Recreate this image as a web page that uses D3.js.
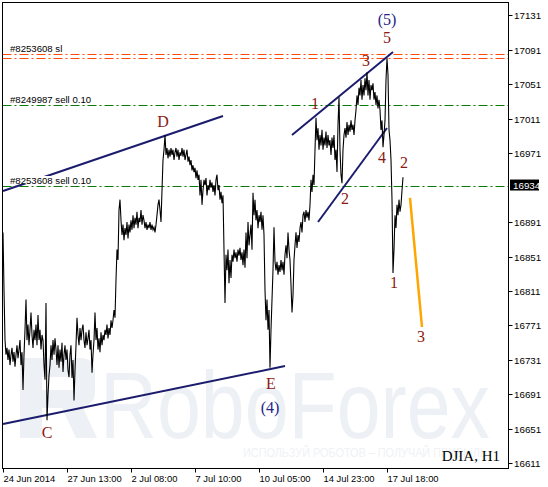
<!DOCTYPE html>
<html><head><meta charset="utf-8">
<script src="https://cdn.jsdelivr.net/npm/d3@7/dist/d3.min.js"></script>
<style>body{margin:0;background:#fff}svg{display:block}</style>
</head><body><svg id="c" width="548" height="487"></svg>
<script>
// ---- data ----
const priceValues = [
16879,16812,16754,16737,16745,16731,16743,16725,16737,16745,
16729,16740,16723,16737,16748,16733,16743,16754,16725,16740,
16696,16737,16766,16801,16754,16772,16748,16766,16786,16760,
16745,16766,16754,16772,16748,16783,16754,16766,16743,16760,
16754,16725,16708,16797,16661,16690,16713,
16725,16748,16731,16754,16737,16756,16743,16725,16748,16722,
16743,16729,16751,16717,16737,16748,16731,16743,16719,16711,
16737,16748,16710,16731,16684,16719,16748,16780,16760,16748,
16768,16754,16766,16772,16754,16745,16763,16748,16756,16766,
16743,16754,16716,16737,16754,16786,16754,16768,16743,16756,
16740,16763,16748,16760,16754,16766,16760,16772,16756,16768,
16760,16777,16768,16777,16789,16780,16824,16859,16847,16905,
16917,16893,16876,16888,16870,16884,16876,16891,16872,16888,
16879,16893,16882,16899,16884,16896,16888,16903,16884,16896,
16891,16905,16888,16899,16893,16884,16891,16882,16888,16884,
16891,16882,16888,16882,16885,16879,16888,16899,16911,16917,
16905,16891,16928,16963,16975,16992,16969,16977,16965,16975,
16967,16977,16969,16975,16963,16972,16977,16967,16975,16963,
16972,16968,16977,16967,16975,16963,16969,16975,16961,16967,
16957,16963,16951,16957,16949,16954,16942,16951,16940,16946,
16922,16940,16911,16928,16940,16934,16942,16922,16934,16928,
16940,16931,16937,16926,16934,16922,16940,16946,16928,16934,
16917,16926,16913,16922,16859,16797,16853,16835,16859,16820,
16847,16826,16853,16845,16859,16849,16856,16845,16859,16852,
16861,16847,16856,16841,16859,16838,16879,16849,16891,16864,
16876,16888,16859,16925,16899,16917,16893,16905,16884,16899,
16891,16903,16882,16899,16876,16812,16777,16801,16766,16789,
16722,16766,16801,16835,16885,16845,16835,16845,16830,16841,
16833,16847,16835,16845,16830,16853,16864,16849,16879,16859,
16847,16818,16786,16806,16847,16864,16879,16861,16876,16868,
16884,16891,16879,16899,16903,16891,16905,16896,16903,16893,
16911,16940,16926,16946,16934,16975,17012,16986,17000,16975,
16992,16980,16998,16975,16989,16980,16996,16977,16992,16980,
16986,16969,16989,16977,16992,16963,16975,16949,17004,17036,
16975,16946,16936,16975,16992,17000,16989,17007,16992,17004,
16996,17009,16998,17004,16992,17009,17021,17038,17027,17047,
17038,17056,17033,17050,17038,17058,17044,17065,17038,17056,
17033,17050,17044,17052,17033,17042,17027,17038,17023,17033,
17021,16998,17009,16978,16992,17009,17056,17081,17062,16998,
16986,16963,16917,16832,16859,16899,16884,16911,16899,16917,
16903,16911,16928,16943
];
const yTickValues = [17131,17091,17051,17011,16971,16891,16851,16811,16771,16731,16691,16651,16611];
const xTickBars = [0,64,128,192,256,320,384];
const xTickLabels = ["24 Jun 2014","27 Jun 13:00","2 Jul 08:00","7 Jul 10:00","10 Jul 05:00","14 Jul 23:00","17 Jul 18:00"];
const currentPrice = 16934;
const orderLevels = [17085.7, 17081.1, 17026.5, 16933.2];
const orderKinds  = ["sl","sl","sell","sell"];
const orderTexts  = ["#8253608 sl","","#8249987 sell 0.10","#8253608 sell 0.10"];
// trend lines: [startBar, startValue, endBar, endValue]
const channelLines = [
  [0,16927.1,220,17014.1],
  [0,16656.6,282,16723.9],
  [289,16992.1,390,17088.4],
  [315,16891.1,384,17000.2]
];
const projectionLine = [407,16919.0,419,16769.2];
// wave labels: text, bar, value, kind
const waveLabels = [
  ["(5)",384,17125.6,"major"],["5",384,17104.7,"minor"],["3",363,17079.1,"minor"],
  ["1",312,17029.2,"minor"],["2",342,16917.8,"minor"],["4",379,16966.5,"minor"],
  ["2",401,16960.7,"minor"],["1",391,16820.3,"minor"],["3",418,16757.6,"minor"],
  ["D",160,17007.2,"minor"],["C",44,16646.2,"minor"],["E",268,16704.2,"minor"],
  ["(4)",267,16676.3,"major"]
];
const symbolText = "DJIA, H1";

// ---- layout ----
const svg = d3.select("#c");
const L = 2.5, T = 2.5, R = 508.5, B = 468.5;
const x = d3.scaleLinear().domain([0,1]).range([3,4]);
const y = d3.scaleLinear().domain([16611,17131]).range([463.3,15.3]);

// watermark (background)
const wm = svg.append("g").attr("fill","#edf0f4");
wm.append("path").attr("d","M20,358 H80 Q95,358 95,373 V392 Q95,405 82,406 L97,438 H76 L62,408 H42 V438 H20 Z M42,377 V390 H72 Q75,390 75,387 V380 Q75,377 72,377 Z")
  .attr("fill-rule","evenodd");
wm.append("text").attr("x",100).attr("y",438).attr("font-family","Liberation Sans, Arial, sans-serif")
  .attr("font-size",95).attr("textLength",390).attr("lengthAdjust","spacingAndGlyphs").text("RoboForex");
wm.append("text").attr("x",243).attr("y",457).attr("font-family","Liberation Sans, Arial, sans-serif")
  .attr("font-size",12).attr("fill","#f0f2f5").attr("textLength",244).attr("lengthAdjust","spacingAndGlyphs")
  .text("ИСПОЛЬЗУЙ РОБОТОВ – ПОЛУЧАЙ ПРИБЫЛЬ");

svg.append("defs").append("clipPath").attr("id","plot")
  .append("rect").attr("x",L).attr("y",T).attr("width",R-L).attr("height",B-T);
const g = svg.append("g").attr("clip-path","url(#plot)");

// order level lines
orderLevels.forEach((v,i)=>{
  g.append("line").attr("x1",L).attr("x2",R).attr("y1",Math.round(y(v))+0.5).attr("y2",Math.round(y(v))+0.5)
   .attr("stroke", orderKinds[i]==="sl" ? "#ff4a0a" : "#0a7a0a").attr("stroke-width",1)
   .attr("stroke-dasharray","9,3,2,3");
});

// channel lines
channelLines.forEach(c=>{
  g.append("line").attr("x1",x(c[0])).attr("y1",y(c[1])).attr("x2",x(c[2])).attr("y2",y(c[3]))
   .attr("stroke","#1c1c6e").attr("stroke-width",2);
});

// order labels (with background)
orderLevels.forEach((v,i)=>{
  if(!orderTexts[i]) return;
  const lg = g.append("g");
  const t = lg.append("text").attr("x",10).attr("y",Math.round(y(v))-2)
    .attr("font-family","Liberation Sans, Arial, sans-serif").attr("font-size",9.6).attr("fill","#000")
    .text(orderTexts[i]);
  const bb = t.node().getBBox();
  lg.insert("rect","text").attr("x",bb.x).attr("y",bb.y+1).attr("width",bb.width).attr("height",bb.height-3).attr("fill","#fff");
});

// price line
const line = d3.line().x((d,i)=>x(i)).y(d=>y(d));
g.append("path").datum(priceValues).attr("d",line).attr("fill","none").attr("stroke","#000").attr("stroke-width",1.1);

// projection
g.append("line").attr("x1",x(projectionLine[0])).attr("y1",y(projectionLine[1]))
  .attr("x2",x(projectionLine[2])).attr("y2",y(projectionLine[3]))
  .attr("stroke","#ffa500").attr("stroke-width",2.5);

// wave labels
waveLabels.forEach(w=>{
  g.append("text").attr("x",x(w[1])).attr("y",y(w[2])).attr("text-anchor","middle")
   .attr("dominant-baseline","central").attr("font-family","Liberation Serif, Times New Roman, serif")
   .attr("font-size",16).attr("fill", w[3]==="major" ? "#24248a" : "#8b1a12").text(w[0]);
});

g.append("text").attr("x",500).attr("y",461).attr("text-anchor","end")
  .attr("font-family","Liberation Serif, Times New Roman, serif").attr("font-size",15).attr("fill","#000").text(symbolText);

// frame
svg.append("rect").attr("x",L).attr("y",T).attr("width",R-L).attr("height",B-T).attr("fill","none").attr("stroke","#000");

// y axis
const ya = svg.append("g");
yTickValues.forEach(v=>{
  const yy = Math.round(y(v))+0.5;
  ya.append("line").attr("x1",R).attr("x2",R+4).attr("y1",yy).attr("y2",yy).attr("stroke","#000");
  ya.append("text").attr("x",514).attr("y",yy).attr("dominant-baseline","central")
    .attr("font-family","Liberation Sans, Arial, sans-serif").attr("font-size",9.8).attr("fill","#000").text(v);
});
// current price box
const cy = y(currentPrice);
svg.append("rect").attr("x",510).attr("y",cy-5.5).attr("width",29).attr("height",11).attr("fill","#000");
svg.append("text").attr("x",513).attr("y",cy).attr("dominant-baseline","central")
  .attr("font-family","Liberation Sans, Arial, sans-serif").attr("font-size",9.8).attr("fill","#fff").text(currentPrice);

// x axis
xTickBars.forEach((b,i)=>{
  const xx = Math.round(x(b))+0.5;
  svg.append("line").attr("x1",xx).attr("x2",xx).attr("y1",B).attr("y2",B+4).attr("stroke","#000");
  svg.append("text").attr("x",xx).attr("y",482).attr("font-family","Liberation Sans, Arial, sans-serif")
    .attr("font-size",9.4).attr("fill","#000").text(xTickLabels[i]);
});
</script></body></html>
